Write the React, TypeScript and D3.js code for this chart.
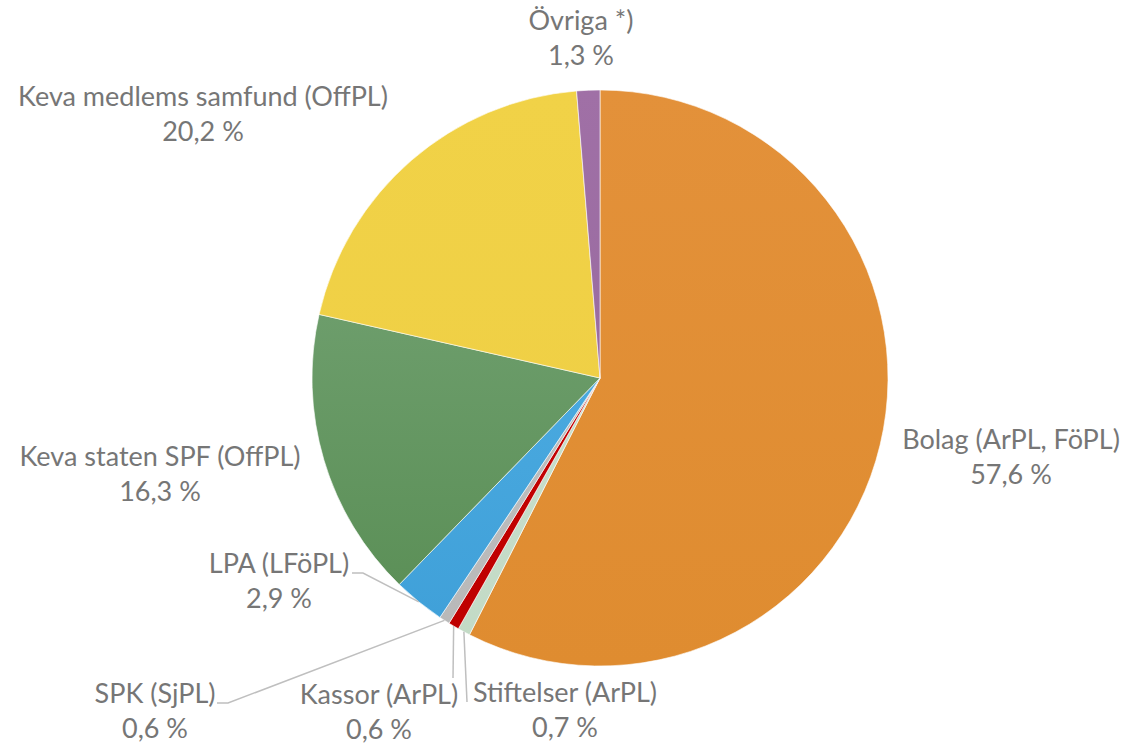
import * as d3 from "d3";
import { useEffect, useRef } from "react";

// data
const categories = [
  "Bolag (ArPL, FöPL)",
  "Stiftelser (ArPL)",
  "Kassor (ArPL)",
  "SPK (SjPL)",
  "LPA (LFöPL)",
  "Keva staten SPF (OffPL)",
  "Keva medlems samfund (OffPL)",
  "Övriga *)",
];
const values = [57.6, 0.7, 0.6, 0.6, 2.9, 16.3, 20.2, 1.3];
const valueLabels = ["57,6 %", "0,7 %", "0,6 %", "0,6 %", "2,9 %", "16,3 %", "20,2 %", "1,3 %"];

// colours: [top, bottom] of each slice gradient
const colors: [string, string][] = [
  ["#E3913A", "#DF8C30"],
  ["#CFE3D1", "#C2DAC5"],
  ["#C80000", "#BE0000"],
  ["#C4C4C4", "#B8B8B8"],
  ["#55B3E6", "#3E9FD8"],
  ["#7AA87B", "#578C52"],
  ["#F1D247", "#EECE44"],
  ["#A070A6", "#93679B"],
];

// label placement (center x, baseline of first line)
const labelPos: [number, number][] = [
  [1011, 449],
  [565, 702],
  [379, 704],
  [155, 703],
  [279, 573],
  [160, 466],
  [203, 106],
  [581, 30],
];

// leader lines: points from label side toward the slice (slice edge appended)
const leaders: Record<number, [number, number][]> = {
  1: [[467, 702]],
  2: [[453, 678]],
  3: [[217, 703], [228, 703]],
  4: [[352, 573], [363, 573]],
};

const App = () => {
  const svgRef = useRef<SVGSVGElement>(null);
  const width = 1122;
  const height = 748;
  const cx = 600;
  const cy = 378;
  const r = 288;

  useEffect(() => {
    const svg = d3.select(svgRef.current);
    svg.selectAll("*").remove();

    const pie = d3.pie<number>().sort(null).value(d => d)(values);
    const arc = d3.arc<d3.PieArcDatum<number>>().innerRadius(0).outerRadius(r);

    //градиенты
    const defs = svg.append("defs");
    colors.forEach((c, i) => {
      const g = defs.append("linearGradient")
        .attr("id", `grad${i}`)
        .attr("gradientUnits", "userSpaceOnUse")
        .attr("x1", 0).attr("y1", -r)
        .attr("x2", 0).attr("y2", r);
      g.append("stop").attr("offset", "0%").attr("stop-color", c[0]);
      g.append("stop").attr("offset", "100%").attr("stop-color", c[1]);
    });

    const chart = svg.append("g").attr("transform", `translate(${cx},${cy})`);

    chart.selectAll("path.slice")
      .data(pie)
      .enter()
      .append("path")
      .attr("class", "slice")
      .attr("d", arc)
      .attr("fill", (_, i) => `url(#grad${i})`)
      .attr("stroke", "#ffffff")
      .attr("stroke-width", 0.6);

    //линии-выноски
    const line = d3.line();
    Object.entries(leaders).forEach(([k, pts]) => {
      const d = pie[+k];
      const mid = (d.startAngle + d.endAngle) / 2;
      const edge: [number, number] = [cx + r * Math.sin(mid), cy - r * Math.cos(mid)];
      svg.append("path")
        .attr("d", line([...pts, edge]))
        .attr("fill", "none")
        .attr("stroke", "#BFBFBF")
        .attr("stroke-width", 1.5);
    });

    //подписи
    const labels = svg.append("g")
      .style("font-family", "Lato, 'Open Sans', sans-serif")
      .style("font-size", "27px")
      .style("fill", "#767676")
      .attr("text-anchor", "middle");

    categories.forEach((name, i) => {
      const [x, y] = labelPos[i];
      labels.append("text").attr("x", x).attr("y", y).text(name);
      labels.append("text").attr("x", x).attr("y", y + 35).text(valueLabels[i]);
    });
  }, []);

  return (
    <svg
      ref={svgRef}
      width={width}
      height={height}
      style={{ position: "absolute", left: 0, top: 0, background: "#fff" }}
    />
  );
};

export default App;
